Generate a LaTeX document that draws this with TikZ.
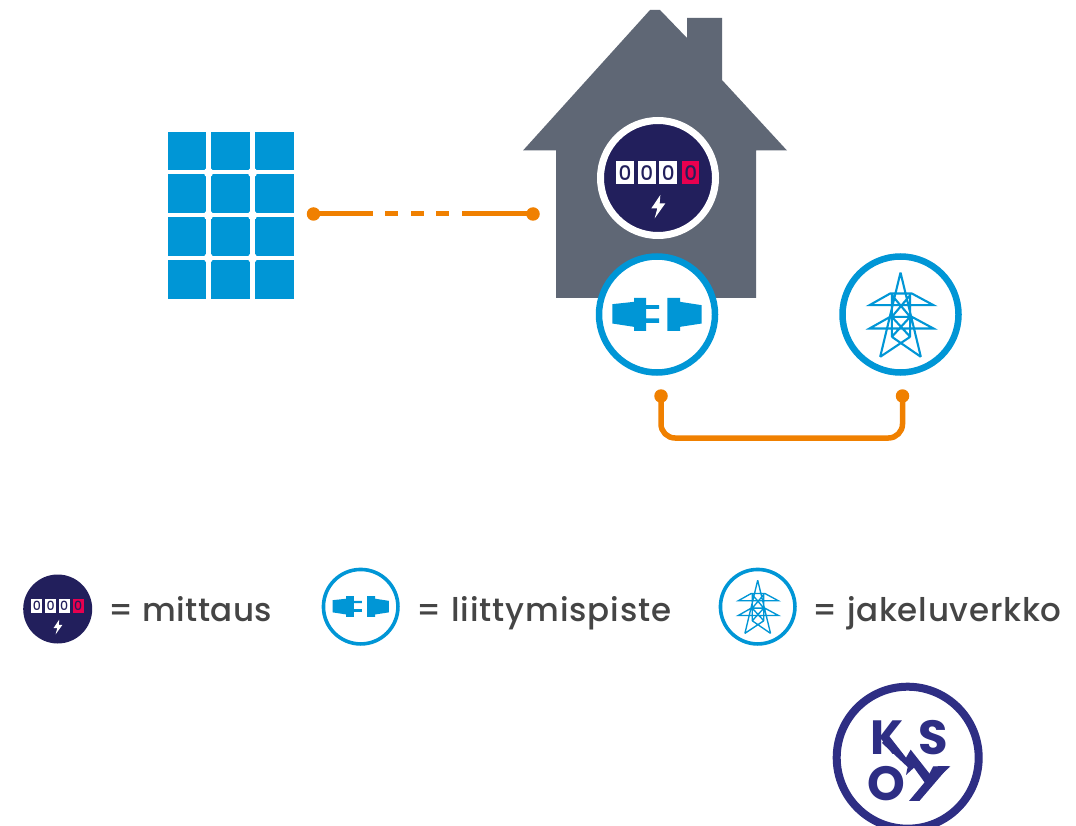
\documentclass[tikz,border=0pt]{standalone}
\usepackage{fontspec}
\setmainfont{Poppins}
\newfontfamily\logofont{Poppins}
\newfontfamily\legendfont{Poppins Medium}
\definecolor{housegrey}{HTML}{5F6775}
\definecolor{navy}{HTML}{221F5C}
\definecolor{skyblue}{HTML}{0096D6}
\definecolor{wireorange}{HTML}{F08000}
\definecolor{digitred}{HTML}{E8004F}
\definecolor{logoblue}{HTML}{2E2E84}
\definecolor{legendtext}{HTML}{454545}
\tikzset{
  x=1pt,y=-1pt,
  wire/.style={wireorange,line width=5pt},
  dotnode/.style={circle,fill=wireorange,inner sep=0pt,outer sep=0pt,minimum size=13.5pt},
  ringnode/.style={circle,draw=skyblue,fill=white,inner sep=0pt,outer sep=0pt},
  digitbox/.style={fill=white,text=navy,inner sep=0pt,font=\legendfont\fontsize{20}{20}\selectfont},
  legendlabel/.style={anchor=base west,text=legendtext,inner sep=0pt,font=\legendfont\fontsize{32.5}{32.5}\selectfont},
  logoletter/.style={text=logoblue,inner sep=0pt,font=\logofont\bfseries\fontsize{48}{48}\selectfont},
  meter/.pic={
    \begin{scope}[x=.3333pt,y=-.3333pt]
      \foreach \l/\r/\n in {-125/-73/a,-61/-7/b,4/58/c}{
        \path[fill=white] (\l,-50) rectangle (\r,18);
        \node[digitbox,transform shape] (-\n) at ({(\l+\r)/2},-16) {0};
      }
      \path[fill=digitred] (72,-50) rectangle (124,18);
      \node[digitbox,fill=digitred,transform shape] (-d) at (98,-16) {0};
      \path[fill=white] (7,51) -- (-20,91) -- (-2,91) -- (-10,121) -- (22,76) -- (5,76) -- cycle;
    \end{scope}
  },
  plug/.pic={
    \begin{scope}[x=.3333pt,y=-.3333pt,fill=skyblue]
      \path[fill=skyblue] (-134,-31) -- (-69,-38) -- (-69,-50) -- (-33,-50) -- (-33,-28) -- (6,-28) -- (6,-17) -- (-33,-17)
        -- (-33,12) -- (6,12) -- (6,25) -- (-33,25) -- (-33,49) -- (-69,49) -- (-69,37) -- (-134,27) -- cycle;
      \path[fill=skyblue] (31,-50) -- (69,-50) -- (69,-38) -- (134,-28) -- (134,27) -- (69,37) -- (69,49) -- (31,49) -- cycle;
    \end{scope}
  },
  tower/.pic={
    \begin{scope}[x=.3333pt,y=-.3333pt]
      \draw[skyblue,line width=#1,line join=miter]
        (0,-126) -- (-61,127) (0,-126) -- (61,127)
        (-93,-28) -- (99,-28) -- (34,-63) -- (-31,-63) -- cycle
        (-93,42) -- (99,42) -- (34,7) -- (-31,7) -- cycle
        (-26,-58) -- (29,7) (29,-58) -- (-26,7)
        (-26,7) -- (29,67) (29,7) -- (-26,67)
        (-61,127) -- (29,67) (61,127) -- (-26,67)
        (-26,-63) -- (-26,67) (29,-63) -- (29,67);
    \end{scope}
  }
}
\begin{document}
\begin{tikzpicture}
\useasboundingbox (0,0) rectangle (1076,826);
\fill[white] (0,0) rectangle (1076,826);

% solar panel
\fill[skyblue] (167.5,131.7) rectangle (293.5,299);
\foreach \gx in {208.5,252.5}{
  \draw[white,line width=4.5pt] (\gx,131.7) -- (\gx,299);
}
\foreach \gy in {172.5,215.3,258}{
  \draw[white,line width=4pt] (167.5,\gy) -- (293.5,\gy);
  \foreach \gx in {208.5,252.5}{ \fill[white] (\gx,\gy) circle (4.8); }
}

% house
\fill[housegrey] (650,10) -- (660,10) -- (687,38) -- (687,18) -- (722,18) -- (722,80) -- (787,150.5) -- (756,150.5)
  -- (756,298) -- (556,298) -- (556,150.5) -- (523,150.5) -- cycle;
\node[circle,draw=white,fill=navy,line width=7pt,inner sep=0pt,outer sep=0pt,minimum size=115pt] (meterring) at (658,178) {};
\pic (mainmeter) at (658,178) {meter};

% connection icons
\node[ringnode,line width=6.5pt,minimum size=116pt] (plugring) at (657,314.5) {};
\pic (mainplug) at (657,314.5) {plug};
\node[ringnode,line width=6.5pt,minimum size=116pt] (towerring) at (900.5,314.5) {};
\pic (maintower) at (900.5,314.5) {tower=2.1pt};

% connectors
\node[dotnode] (sundot) at (313.5,214) {};
\node[dotnode] (housedot) at (533,214) {};
\draw[wire,dash pattern=on 59 off 12.5 on 13 off 13 on 13 off 12 on 13 off 13 on 72] (sundot.center) -- (housedot.center);
\node[dotnode] (plugdot) at (661,396) {};
\node[dotnode] (griddot) at (902.5,396) {};
\coordinate (bendl) at (661,438);
\coordinate (bendr) at (902.5,438);
\draw[wire,line width=5.5pt,rounded corners=14pt] (plugdot.center) -- (bendl) -- (bendr) -- (griddot.center);

% legend
\node[circle,fill=navy,inner sep=0pt,outer sep=0pt,minimum size=69pt] (legmeter) at (57.7,609) {};
\pic[scale=.63] (legmeterpic) at (57.7,609) {meter};
\node[legendlabel] (legmetertext) at (108.5,621.5) {\addfontfeature{LetterSpace=1.2}= mittaus};
\node[ringnode,line width=3.6pt,minimum size=74.5pt] (legplug) at (360.7,606.7) {};
\pic[scale=.63] (legplugpic) at (360.7,606.7) {plug};
\node[legendlabel] (legplugtext) at (416.5,621.5) {\addfontfeature{LetterSpace=2.8}= liittymispiste};
\node[ringnode,line width=3.6pt,minimum size=74.5pt] (legtower) at (757.7,606.7) {};
\pic[scale=.63] (legtowerpic) at (757.7,606.7) {tower=1.35pt};
\node[legendlabel] (legtowertext) at (812.5,621.5) {\addfontfeature{LetterSpace=2.3}= jakeluverkko};

% logo
\node[circle,draw=logoblue,line width=8pt,fill=white,inner sep=0pt,outer sep=0pt,minimum size=142pt] (logoring) at (907.7,757.7) {};
\node[logoletter] (logok) at (887,738) {K};
\node[logoletter] (logos) at (933,738) {S};
\node[logoletter] (logoo) at (886,784) {O};
\node[logoletter,transform shape,xslant=.8,xscale=.55] (logoy) at (929,783.5) {Y};
\begin{scope}[x=.3333pt,y=-.3333pt,xshift=860pt,yshift=-715pt]
  \fill[logoblue] (85,60) -- (138,128) -- (152,104) -- (218,188) -- (198,208) -- (162,158) -- (138,180) -- (143,156) -- (66,84) -- cycle;
  \fill[logoblue] (235,153) -- (268,153) -- (178,258) -- (147,258) -- cycle;
\end{scope}
\end{tikzpicture}
\end{document}
